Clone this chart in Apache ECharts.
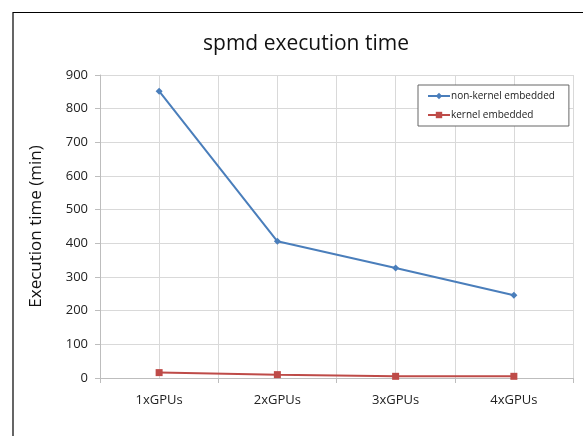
<!DOCTYPE html>
<html>
<head>
<meta charset="utf-8">
<script src="https://cdn.jsdelivr.net/npm/echarts@6/dist/echarts.min.js"></script>
<style>
  html, body { margin: 0; padding: 0; background: #fff; }
  #chart { width: 583px; height: 436px; }
</style>
</head>
<body>
<div id="chart"></div>
<script>
var categories = ['1xGPUs', '2xGPUs', '3xGPUs', '4xGPUs'];
var nonKernel = [852, 406, 327, 246];
var kernel = [16, 10, 5, 5];

var chart = echarts.init(document.getElementById('chart'));
var font = 'Open Sans, Noto Sans, sans-serif';
var option = {
    backgroundColor: '#fff',
    animation: false,
    title: {
        text: 'spmd execution time',
        left: 301,
        top: 29,
        textAlign: 'center',
        textStyle: { fontFamily: font, fontSize: 21, fontWeight: 'normal', color: '#111' }
    },
    legend: {
        orient: 'vertical',
        left: 418,
        top: 85,
        width: 147,
        padding: [6, 14, 6, 9],
        itemGap: 9,
        itemWidth: 22,
        itemHeight: 8,
        borderColor: '#666',
        borderWidth: 1,
        backgroundColor: '#fff',
        textStyle: { fontFamily: font, fontSize: 10, color: '#222', padding: [0, 0, 0, -4] },
        data: ['non-kernel embedded', 'kernel embedded']
    },
    graphic: [{
        type: 'polyline',
        shape: { points: [[13, 436], [13, 12.5], [583, 12.5]] },
        style: { stroke: '#000', lineWidth: 1.2, fill: null },
        z: 10
    }],
    grid: { left: 100, right: 10, top: 75, bottom: 58 },
    xAxis: [{
        type: 'category',
        data: categories,
        boundaryGap: true,
        axisLine: { lineStyle: { color: '#bdbdbd' } },
        axisTick: { show: true, length: 5, lineStyle: { color: '#bdbdbd' } },
        axisLabel: { fontFamily: font, fontSize: 13, color: '#222', margin: 16 },
        splitLine: { show: true, lineStyle: { color: '#d9d9d9' } }
    }, {
        type: 'value',
        min: 0, max: 8, interval: 1,
        position: 'bottom',
        axisLine: { show: false },
        axisTick: { show: false },
        axisLabel: { show: false },
        splitLine: { show: true, lineStyle: { color: '#d9d9d9' } }
    }],
    yAxis: {
        type: 'value',
        min: 0, max: 900, interval: 100,
        name: 'Execution time (min)',
        nameLocation: 'middle',
        nameGap: 55,
        nameTextStyle: { fontFamily: font, fontSize: 17, color: '#111' },
        axisLine: { show: true, lineStyle: { color: '#bdbdbd' } },
        axisTick: { show: true, inside: false, length: 5, lineStyle: { color: '#bdbdbd' } },
        axisLabel: { fontFamily: font, fontSize: 13, color: '#222', margin: 12 },
        splitLine: { show: true, lineStyle: { color: '#d9d9d9' } }
    },
    series: [{
        name: 'non-kernel embedded',
        type: 'line',
        data: nonKernel,
        symbol: 'diamond',
        symbolSize: 7,
        itemStyle: { color: '#4a7ebb' },
        lineStyle: { color: '#4a7ebb', width: 2 }
    }, {
        name: 'kernel embedded',
        type: 'line',
        data: kernel,
        symbol: 'rect',
        symbolSize: 7,
        itemStyle: { color: '#be4b48' },
        lineStyle: { color: '#be4b48', width: 2 }
    }]
};
chart.setOption(option);
</script>
</body>
</html>
